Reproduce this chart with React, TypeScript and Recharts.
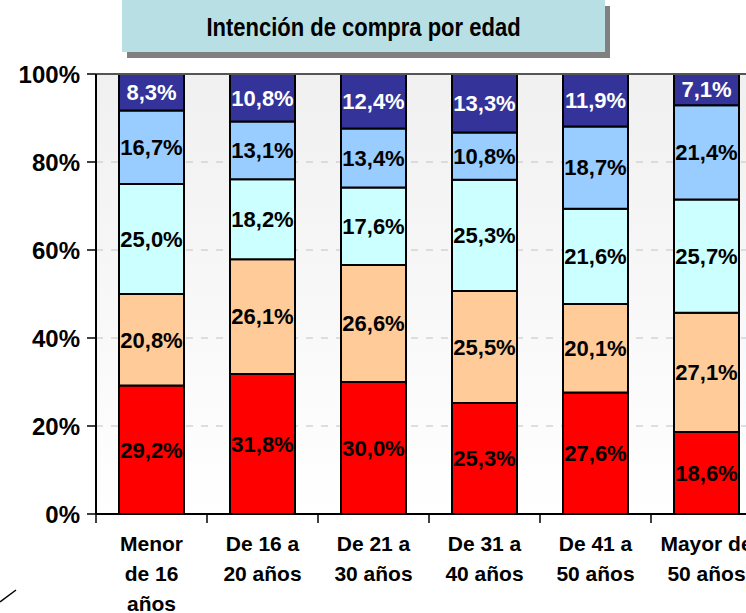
import { BarChart, Bar, XAxis, YAxis, CartesianGrid, LabelList, ReferenceLine } from 'recharts';

const categories = ['Menor\nde 16\naños', 'De 16 a\n20 años', 'De 21 a\n30 años', 'De 31 a\n40 años', 'De 41 a\n50 años', 'Mayor de\n50 años'];
const rojo = [29.2, 31.8, 30.0, 25.3, 27.6, 18.6];
const melocoton = [20.8, 26.1, 26.6, 25.5, 20.1, 27.1];
const cian = [25.0, 18.2, 17.6, 25.3, 21.6, 25.7];
const azulClaro = [16.7, 13.1, 13.4, 10.8, 18.7, 21.4];
const azulOscuro = [8.3, 10.8, 12.4, 13.3, 11.9, 7.1];
const yTicks = [0, 0.2, 0.4, 0.6, 0.8, 1];

const data = categories.map((c, i) => ({
  cat: c,
  rojo: rojo[i],
  melocoton: melocoton[i],
  cian: cian[i],
  azulClaro: azulClaro[i],
  azulOscuro: azulOscuro[i],
}));

const series = [
  { key: 'rojo', color: '#ff0000', text: '#000' },
  { key: 'melocoton', color: '#ffcc99', text: '#000' },
  { key: 'cian', color: '#ccffff', text: '#000' },
  { key: 'azulClaro', color: '#99ccff', text: '#000' },
  { key: 'azulOscuro', color: '#333399', text: '#fff' },
];

const font = '"Liberation Sans", Arial, sans-serif';
const pct = (v: any) => Number(v).toFixed(1).replace('.', ',') + '%';

// chart box
const W = 780;
const H = 613;
const M = { top: 74, right: 18, left: 0, bottom: 0 };
const Y_W = 96;
const band = (W - M.left - M.right - Y_W) / categories.length;

// category label, plus the tick mark on the left edge of each band (Excel style)
function CatTick(props: any) {
  const { x, y, payload, index } = props;
  const lines = String(payload.value).split('\n');
  return (
    <g>
      <line x1={x - band / 2} x2={x - band / 2} y1={y} y2={y + 9} stroke="#000" strokeWidth={1.5} />
      {index === categories.length - 1 && (
        <line x1={x + band / 2} x2={x + band / 2} y1={y} y2={y + 9} stroke="#000" strokeWidth={1.5} />
      )}
      <text x={x} y={y} textAnchor="middle" fontFamily={font} fontWeight="bold" fontSize={21} fill="#000">
        {lines.map((l, i) => (
          <tspan key={i} x={x} dy={i === 0 ? 37 : 30}>{l}</tspan>
        ))}
      </text>
    </g>
  );
}

export default function App() {
  return (
    <div style={{ position: 'fixed', left: 0, top: 0, width: 746, height: 613, overflow: 'hidden', background: '#fff', fontFamily: font }}>
      <div
        style={{
          position: 'absolute', left: 122, top: 0, width: 483, height: 52,
          background: '#b8e0e4', boxShadow: '5px 6px 0 #808080',
          textAlign: 'center', lineHeight: '56px', fontWeight: 'bold', fontSize: 22, color: '#000', zIndex: 2,
        }}
      >
        <span style={{ display: 'inline-block', transform: 'scaleY(1.15)' }}>Intención de compra por edad</span>
      </div>
      <svg width={40} height={30} style={{ position: 'absolute', left: 0, top: 583 }}>
        <line x1={0} y1={19} x2={16} y2={7} stroke="#000" strokeWidth={1.5} />
      </svg>
      <BarChart
        width={W}
        height={H}
        data={data}
        stackOffset="expand"
        barCategoryGap={23}
        margin={M}
      >
        <defs>
          <linearGradient id="plotBg" x1="0" y1="0" x2="0" y2="1">
            <stop offset="0%" stopColor="#f0f0f0" />
            <stop offset="100%" stopColor="#ffffff" />
          </linearGradient>
        </defs>
        <CartesianGrid vertical={false} fill="url(#plotBg)" stroke="#d4d4d4" strokeDasharray="7 8" strokeWidth={1.5} />
        <XAxis
          dataKey="cat"
          height={99}
          axisLine={{ stroke: '#000', strokeWidth: 2 }}
          tickLine={false}
          tickSize={0}
          tickMargin={0}
          interval={0}
          tick={<CatTick />}
        />
        <YAxis
          width={Y_W}
          domain={[0, 1]}
          ticks={yTicks}
          tickFormatter={(v) => Math.round(v * 100) + '%'}
          tick={{ fill: '#000', fontSize: 24, fontWeight: 'bold', fontFamily: font }}
          tickSize={9}
          tickMargin={7}
          axisLine={{ stroke: '#000', strokeWidth: 2 }}
          tickLine={{ stroke: '#000', strokeWidth: 1.5 }}
        />
        <ReferenceLine y={1} stroke="#555555" strokeWidth={2} />
        {series.map((s) => (
          <Bar key={s.key} dataKey={s.key} stackId="a" fill={s.color} stroke="#000" strokeWidth={2} isAnimationActive={false}>
            <LabelList
              dataKey={s.key}
              position="center"
              formatter={pct}
              fill={s.text}
              fontSize={22}
              fontWeight="bold"
              fontFamily={font}
            />
          </Bar>
        ))}
      </BarChart>
    </div>
  );
}
